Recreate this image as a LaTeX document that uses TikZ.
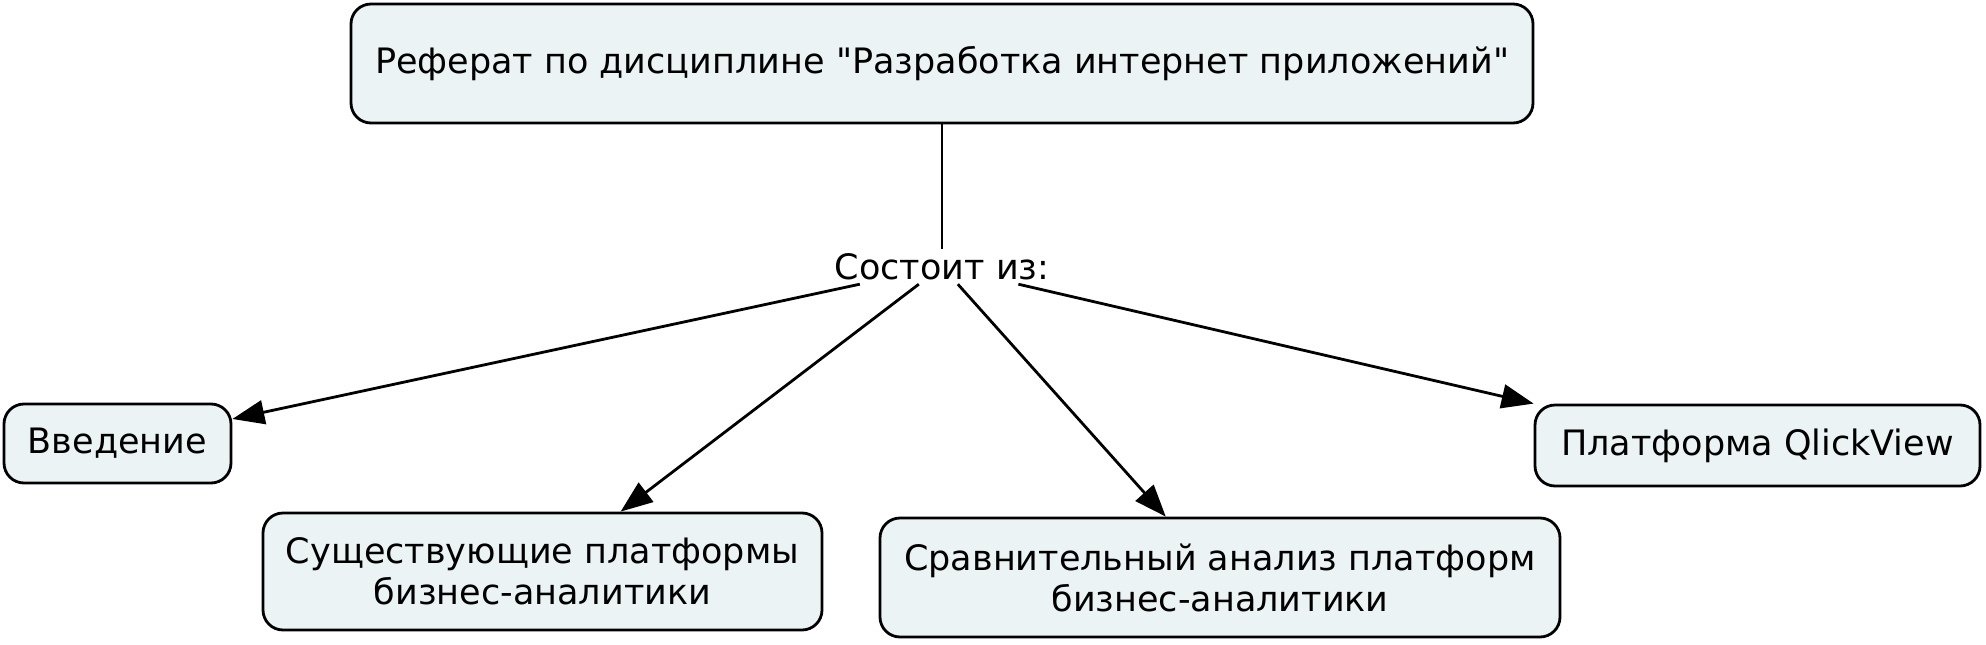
\documentclass[tikz,border=0pt]{standalone}
\usepackage{fontspec}
\newfontfamily\mapfont{DejaVu Sans}
\usetikzlibrary{arrows.meta}
\definecolor{boxfill}{RGB}{235,243,245}
\begin{document}
\begin{tikzpicture}[x=1pt,y=-1pt,
  txt/.style={font=\mapfont\fontsize{35}{41}\selectfont},
  concept/.style={txt, draw=black, line width=2.8pt, fill=boxfill, rounded corners=20pt, inner sep=0pt, align=center},
  link/.style={line width=2.8pt, draw=black},
  arr/.style={link, -{Triangle[length=32pt,width=24pt]}}]
\useasboundingbox (0,0) rectangle (1986,645);
\node[concept, minimum width=1182pt, minimum height=119pt] (top) at (942,63.5) {Реферат по дисциплине "Разработка интернет приложений"};
\node[txt, inner xsep=3pt, inner ysep=0pt, minimum height=35pt] (lbl) at (942,266.5) {Состоит из:};
\node[concept, minimum width=227pt, minimum height=79pt] (intro) at (117.5,443.5) {Введение};
\node[concept, minimum width=559pt, minimum height=117pt] (exist) at (542.5,571.5) {Существующие платформы\\бизнес-аналитики};
\node[concept, minimum width=680pt, minimum height=119pt] (comp) at (1220,577.5) {Сравнительный анализ платформ\\бизнес-аналитики};
\node[concept, minimum width=445pt, minimum height=81pt] (qv) at (1757.5,445.5) {Платформа QlickView};
\draw[link] (top) -- (lbl);
\draw[arr] (lbl) -- (intro);
\draw[arr] (lbl) -- (exist);
\draw[arr] (lbl) -- (comp);
\draw[arr] (lbl) -- (qv.north west);
\end{tikzpicture}
\end{document}
